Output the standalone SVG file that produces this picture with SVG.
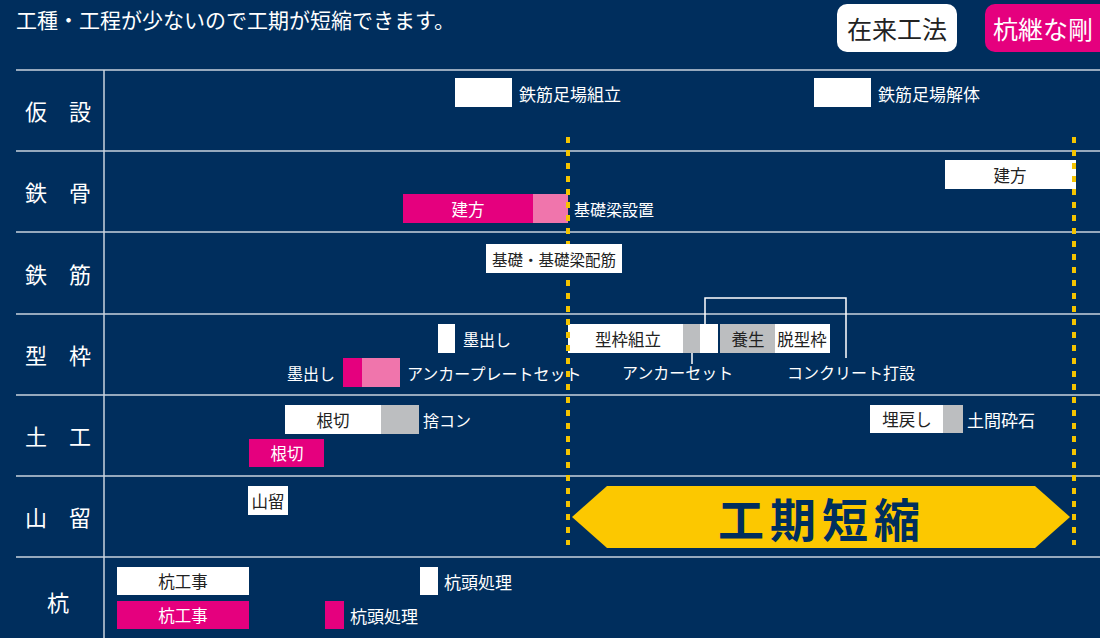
<svg xmlns="http://www.w3.org/2000/svg" width="1100" height="638" viewBox="0 0 1100 638">
<defs>
<style>
text{font-family:"Noto Sans CJK JP","Noto Sans",sans-serif;}
.bg{fill:#002e5d;}
.grid{stroke:#c9d3de;stroke-width:1.5;fill:none;}
.rowlab{fill:#ffffff;font-size:22px;text-anchor:middle;dominant-baseline:central;}
.lab{fill:#ffffff;font-size:16px;dominant-baseline:central;}
.lab17{fill:#ffffff;font-size:17px;dominant-baseline:central;}
.in{fill:#222222;font-size:16.5px;text-anchor:middle;dominant-baseline:central;}
.inw{fill:#ffffff;font-size:16.5px;text-anchor:middle;dominant-baseline:central;}
.w{fill:#ffffff;}
.p{fill:#e5007e;}
.lp{fill:#f075ac;}
.g{fill:#bcbec0;}
.dash{stroke:#f5c400;stroke-width:4;stroke-dasharray:6 7;fill:none;}
.conn{stroke:#ffffff;stroke-width:1.5;fill:none;}
</style>
</defs>
<rect class="bg" x="0" y="0" width="1100" height="638"/>
<g id="header">
<text x="16" y="28" fill="#ffffff" font-size="21">工種・工程が少ないので工期が短縮できます。</text>
<rect x="837" y="4" width="120" height="48" rx="10" fill="#ffffff"/>
<text x="897" y="28" fill="#222222" font-size="25" text-anchor="middle" dominant-baseline="central">在来工法</text>
<rect x="985" y="4" width="130" height="48" rx="10" fill="#e5007e"/>
<text x="993" y="28" fill="#ffffff" font-size="25" dominant-baseline="central">杭継な剛</text>
</g>
<g id="grid">
<line class="grid" x1="16" y1="70" x2="1100" y2="70"/>
<line class="grid" x1="16" y1="151" x2="1100" y2="151"/>
<line class="grid" x1="16" y1="232" x2="1100" y2="232"/>
<line class="grid" x1="16" y1="314" x2="1100" y2="314"/>
<line class="grid" x1="16" y1="395" x2="1100" y2="395"/>
<line class="grid" x1="16" y1="476" x2="1100" y2="476"/>
<line class="grid" x1="16" y1="557" x2="1100" y2="557"/>
<line class="grid" x1="104" y1="70" x2="104" y2="638"/>
</g>
<g id="row-labels">
<text class="rowlab" x="58" y="110">仮　設</text>
<text class="rowlab" x="58" y="191">鉄　骨</text>
<text class="rowlab" x="58" y="273">鉄　筋</text>
<text class="rowlab" x="58" y="354">型　枠</text>
<text class="rowlab" x="58" y="435">土　工</text>
<text class="rowlab" x="58" y="516">山　留</text>
<text class="rowlab" x="58" y="601">杭</text>
</g>
<g id="connectors">
<line class="conn" x1="692" y1="353" x2="692" y2="364"/>
<polyline class="conn" points="705,324 705,298 846,298 846,358"/>
</g>
<g id="kasetsu">
<rect class="w" x="455" y="78" width="57" height="29"/>
<text class="lab17" x="519" y="93">鉄筋足場組立</text>
<rect class="w" x="814" y="78" width="57" height="29"/>
<text class="lab17" x="878" y="93">鉄筋足場解体</text>
</g>
<g id="tekkotsu">
<rect class="w" x="945" y="160" width="131" height="29"/>
<text class="in" x="1010" y="175">建方</text>
<rect class="p" x="403" y="194" width="130" height="29"/>
<rect class="lp" x="533" y="194" width="35" height="29"/>
<text class="inw" x="468" y="209">建方</text>
<text class="lab" x="574" y="209">基礎梁設置</text>
</g>
<g id="katawaku">
<rect class="w" x="438" y="324" width="17" height="29"/>
<text class="lab" x="463" y="339">墨出し</text>
<text class="lab" x="287" y="373">墨出し</text>
<rect class="p" x="343" y="358" width="19" height="29"/>
<rect class="lp" x="362" y="358" width="38" height="29"/>
<text class="lab" x="407" y="373">アンカープレートセット</text>
<rect class="w" x="568" y="324" width="115" height="29"/>
<rect class="g" x="683" y="324" width="17" height="29"/>
<rect class="w" x="700" y="324" width="18" height="29"/>
<rect class="g" x="720" y="324" width="55" height="29"/>
<rect class="w" x="775" y="324" width="55" height="29"/>
<text class="in" x="628" y="339">型枠組立</text>
<text class="in" x="748" y="339">養生</text>
<text class="in" x="802" y="339">脱型枠</text>
<text class="lab" x="622" y="372">アンカーセット</text>
<text class="lab" x="787" y="372">コンクリート打設</text>
</g>
<g id="dokou">
<rect class="w" x="285" y="405" width="96" height="29"/>
<rect class="g" x="381" y="405" width="38" height="29"/>
<text class="in" x="333" y="420">根切</text>
<text class="lab" x="423" y="420">捨コン</text>
<rect class="p" x="249" y="439" width="75" height="28"/>
<text class="inw" x="287" y="453">根切</text>
<rect class="w" x="870" y="405" width="73" height="28"/>
<rect class="g" x="943" y="405" width="20" height="28"/>
<text class="in" x="907" y="419">埋戻し</text>
<text class="lab17" x="967" y="419">土間砕石</text>
</g>
<g id="yamadome">
<rect class="w" x="248" y="486" width="40" height="29"/>
<text class="in" x="268" y="501">山留</text>
</g>
<g id="kui">
<rect class="w" x="117" y="567" width="132" height="28"/>
<text class="in" x="183" y="581">杭工事</text>
<rect class="p" x="117" y="601" width="132" height="28"/>
<text class="inw" x="183" y="615">杭工事</text>
<rect class="w" x="420" y="567" width="18" height="28"/>
<text class="lab17" x="444" y="581">杭頭処理</text>
<rect class="p" x="325" y="601" width="19" height="28"/>
<text class="lab17" x="350" y="615">杭頭処理</text>
</g>
<g id="shortening">
<line class="dash" x1="568" y1="137" x2="568" y2="545"/>
<line class="dash" x1="1074" y1="137" x2="1074" y2="545"/>
<polygon points="572,517 607,486 1035,486 1070,517 1035,548 607,548" fill="#fcc800"/>
<text x="822" y="517" fill="#002e5d" font-size="46" font-weight="bold" letter-spacing="6" text-anchor="middle" dominant-baseline="central">工期短縮</text>
</g>
<g id="tekkin">
<rect class="w" x="486" y="244" width="136" height="29"/>
<text x="554" y="259" fill="#222222" font-size="15.5" text-anchor="middle" dominant-baseline="central">基礎・基礎梁配筋</text>
</g>
</svg>
